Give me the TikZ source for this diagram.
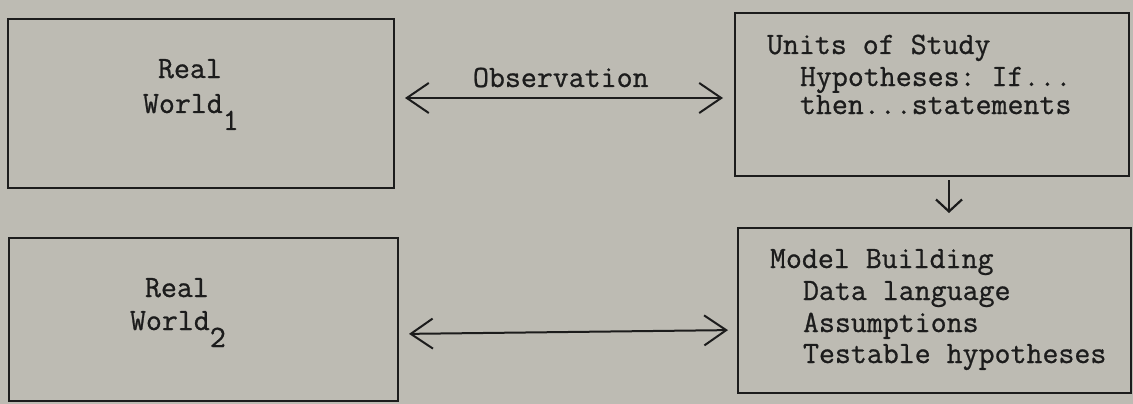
\documentclass[tikz,border=0pt]{standalone}
\usepackage{fontspec}
\usetikzlibrary{arrows.meta}
\newfontfamily\typew{Latin Modern Mono}[RawFeature={embolden=0.8}]
\definecolor{paper}{RGB}{189,187,179}
\definecolor{ink}{RGB}{28,28,28}
\frenchspacing
\begin{document}
\begin{tikzpicture}[x=1pt,y=-1pt,
  box/.style={draw=ink,line width=1.5pt,inner sep=0pt,outer sep=0pt,rectangle},
  txt/.style={anchor=base west,inner sep=0pt,outer sep=0pt,text=ink,font=\fontsize{31}{32}\typew\frenchspacing},
  conn/.style={draw=ink,line width=2pt,{Straight Barb[length=22pt,width=30pt,line width=2pt]}-{Straight Barb[length=22pt,width=30pt,line width=2pt]}},
  down/.style={draw=ink,line width=1.8pt,-{Straight Barb[length=12pt,width=26pt,line width=2.2pt]}}
]
\fill[paper] (0,0) rectangle (1133,404);
\useasboundingbox (0,0) rectangle (1133,404);

% boxes
\node[box,minimum width=386pt,minimum height=169pt] (rw1) at (201,103.5) {};
\node[box,minimum width=394pt,minimum height=163pt] (units) at (932,94.5) {};
\node[box,minimum width=389pt,minimum height=163pt] (rw2) at (203.5,319.5) {};
\node[box,minimum width=393pt,minimum height=165pt] (model) at (934.5,310.5) {};

% texts
\node[txt] (r1a) at (158,78) {Real};
\node[txt] (r1b) at (143,113) {World\raisebox{-17pt}{1}};
\node[txt] (r2a) at (145,297) {Real};
\node[txt] (r2b) at (130,330) {World\raisebox{-17pt}{2}};

\node[txt] (u1) at (767,54) {Units of Study};
\node[txt] (u2) at (800,86) {Hypotheses: If...};
\node[txt] (u3) at (800,114) {then...statements};

\node[txt] (m1) at (770,268) {Model Building};
\node[txt] (m2) at (803,300) {Data language};
\node[txt] (m3) at (803,332) {Assumptions};
\node[txt] (m4) at (803,363) {Testable hypotheses};

\node[txt] (obs) at (473,87) {Observation};

% connectors
\coordinate (a1) at (rw1.east |- 0,98);
\coordinate (b1) at (units.west |- 0,98);
\draw[conn,shorten <=11pt,shorten >=12pt] (a1) -- (b1);

\coordinate (a2) at (rw2.east |- 0,334);
\coordinate (b2) at (model.west |- 0,330);
\draw[conn,shorten <=11pt,shorten >=10pt] (a2) -- (b2);

\coordinate (c1) at (949,0 |- units.south);
\coordinate (c2) at (949,0 |- model.north);
\draw[down,shorten <=4pt,shorten >=15pt] (c1) -- (c2);
\end{tikzpicture}
\end{document}
